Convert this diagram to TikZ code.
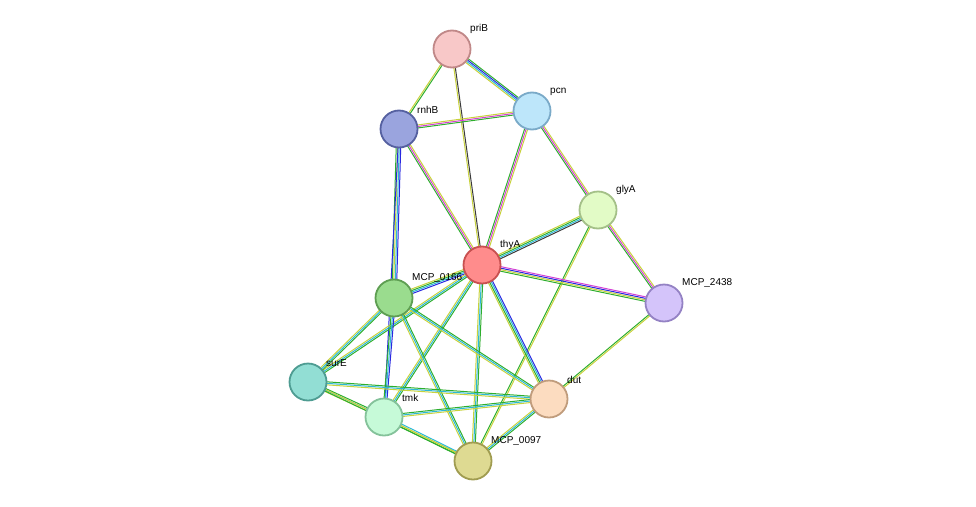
\documentclass[tikz,border=0pt]{standalone}
\usepackage{fontspec}
\setmainfont{Liberation Sans}
\usetikzlibrary{backgrounds,calc}
\definecolor{tm}{HTML}{C8D23C}
\definecolor{nb}{HTML}{2EAE2E}
\definecolor{co}{HTML}{3A3A3A}
\definecolor{ex}{HTML}{D440D4}
\definecolor{db}{HTML}{2CB8D6}
\definecolor{oc}{HTML}{2828E0}
\newcommand\protcol[3]{\definecolor{f#1}{HTML}{#2}\definecolor{d#1}{HTML}{#3}}
\protcol{priB}{F8C8C8}{C08888}
\protcol{pcn}{BDE6FA}{7AAAC8}
\protcol{rnhB}{9AA4DE}{5560A0}
\protcol{glyA}{E2FBC6}{A4C088}
\protcol{thyA}{FF8C8C}{C85050}
\protcol{MCPb}{D4C4FA}{9482C4}
\protcol{MCPa}{9ADC8E}{5E9E52}
\protcol{surE}{92DED4}{4E9C92}
\protcol{dut}{FCDCC0}{C09C7C}
\protcol{tmk}{C6FAD8}{84C29A}
\protcol{MCPc}{DEDA92}{A09C50}
% parallel stripes, one per evidence channel
\newcommand\lnk[3]{%
  \foreach \c [count=\i] in {#3} {\xdef\nl{\i}}%
  \foreach \c [count=\i, evaluate=\i as \o using (\i-(\nl+1)/2)*1.5] in {#3}
    {\draw[line width=1pt, \c] ($(#1)!\o pt!90:(#2)$) -- ($(#2)!\o pt!-90:(#1)$);}}
\tikzset{
  prot/.style={circle, minimum size=37pt, inner sep=0pt,
    line width=1.8pt, fill=f#1, draw=d#1},
  lbl/.style={font=\fontsize{10}{11}\selectfont, inner sep=1pt}
}
\begin{document}
\begin{tikzpicture}[x=1pt, y=-1pt]
	\useasboundingbox (0,0) rectangle (976,506);
	% proteins
	\node[prot=priB] (priB) at (452,49) {};
	\node[prot=pcn] (pcn) at (532,111) {};
	\node[prot=rnhB] (rnhB) at (399,129) {};
	\node[prot=glyA] (glyA) at (598,210) {};
	\node[prot=thyA] (thyA) at (482,265) {};
	\node[prot=MCPb] (MCP2438) at (664,303) {};
	\node[prot=MCPa] (MCP0166) at (394,298) {};
	\node[prot=surE] (surE) at (308,382) {};
	\node[prot=dut] (dut) at (549,399) {};
	\node[prot=tmk] (tmk) at (384,417) {};
	\node[prot=MCPc] (MCP0097) at (473,461) {};
	% labels
	\node[lbl, anchor=south west] at (469,35) {priB};
	\node[lbl, anchor=south west] at (549,97) {pcn};
	\node[lbl, anchor=south west] at (416,115) {rnhB};
	\node[lbl, anchor=south west] at (615,196) {glyA};
	\node[lbl, anchor=south west] at (499,251) {thyA};
	\node[lbl, anchor=south west] at (681,289) {MCP\_2438};
	\node[lbl, anchor=south west] at (411,284) {MCP\_0166};
	\node[lbl, anchor=south west] at (325,368) {surE};
	\node[lbl, anchor=south west] at (566,385) {dut};
	\node[lbl, anchor=south west] at (401,403) {tmk};
	\node[lbl, anchor=south west] at (490,447) {MCP\_0097};
	% interactions
	\begin{scope}[on background layer]
		\lnk{priB}{rnhB}{tm,nb}
		\lnk{priB}{pcn}{tm,db,oc,nb}
		\lnk{priB}{thyA}{tm,co}
		\lnk{rnhB}{pcn}{nb,ex,tm}
		\lnk{rnhB}{thyA}{nb,ex,tm}
		\lnk{rnhB}{MCP0166}{nb,tm,db,oc}
		\lnk{rnhB}{tmk}{oc}
		\lnk{pcn}{thyA}{nb,ex,tm}
		\lnk{pcn}{glyA}{nb,ex,tm}
		\lnk{glyA}{thyA}{tm,nb,db,co}
		\lnk{glyA}{MCP2438}{nb,ex,tm}
		\lnk{glyA}{MCP0097}{nb,tm}
		\lnk{thyA}{MCP2438}{nb,tm,oc,ex}
		\lnk{thyA}{MCP0166}{tm,nb,db,oc}
		\lnk{thyA}{surE}{tm,db,nb}
		\lnk{thyA}{dut}{tm,nb,db,oc}
		\lnk{thyA}{tmk}{tm,db,nb}
		\lnk{thyA}{MCP0097}{tm,db,nb}
		\lnk{MCP0166}{surE}{tm,db,nb}
		\lnk{MCP0166}{tmk}{nb,db,oc}
		\lnk{MCP0166}{dut}{tm,db,nb}
		\lnk{MCP0166}{MCP0097}{tm,db,nb}
		\lnk{MCP2438}{dut}{nb,tm}
		\lnk{surE}{tmk}{tm,db,nb}
		\lnk{surE}{dut}{tm,db,nb}
		\lnk{surE}{MCP0097}{nb,tm}
		\lnk{tmk}{dut}{tm,db,nb}
		\lnk{tmk}{MCP0097}{nb,tm,db}
		\lnk{dut}{MCP0097}{tm,db,nb}
	\end{scope}
\end{tikzpicture}
\end{document}
